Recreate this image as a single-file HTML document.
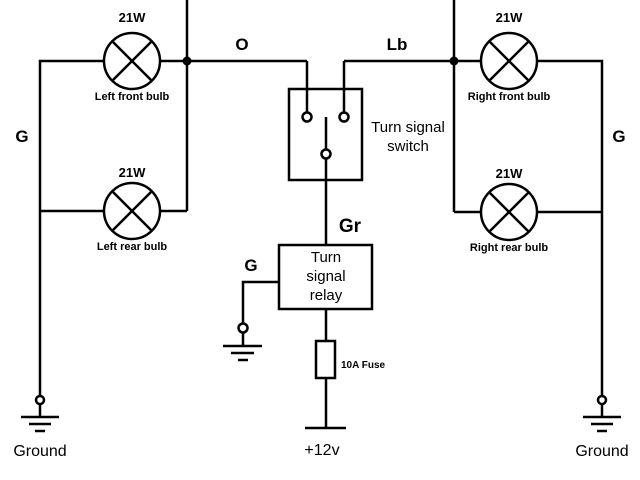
<!DOCTYPE html>
<html><head><meta charset="utf-8"><style>html,body{margin:0;padding:0;background:#fff}svg{display:block}</style></head>
<body>
<svg width="640" height="480" viewBox="0 0 640 480" xmlns="http://www.w3.org/2000/svg" font-family="Liberation Sans, sans-serif">
<g stroke="#000" stroke-width="2.5" fill="none">
<polyline points="104,61 40,61 40,396"/>
<line x1="40" y1="211" x2="104" y2="211"/>
<line x1="160" y1="61" x2="307" y2="61"/>
<line x1="187" y1="0" x2="187" y2="211"/>
<line x1="160" y1="211" x2="187" y2="211"/>
<line x1="307" y1="61" x2="307" y2="112"/>
<polyline points="537,61 602,61 602,396"/>
<line x1="537" y1="212" x2="602" y2="212"/>
<line x1="344" y1="61" x2="481" y2="61"/>
<line x1="454" y1="0" x2="454" y2="212"/>
<line x1="454" y1="212" x2="481" y2="212"/>
<line x1="344" y1="61" x2="344" y2="112"/>
<circle cx="132" cy="61" r="28"/><line x1="113" y1="42" x2="151" y2="80"/><line x1="151" y1="42" x2="113" y2="80"/>
<circle cx="132" cy="211" r="28"/><line x1="113" y1="192" x2="151" y2="230"/><line x1="151" y1="192" x2="113" y2="230"/>
<circle cx="509" cy="61" r="28"/><line x1="490" y1="42" x2="528" y2="80"/><line x1="528" y1="42" x2="490" y2="80"/>
<circle cx="509" cy="212" r="28"/><line x1="490" y1="193" x2="528" y2="231"/><line x1="528" y1="193" x2="490" y2="231"/>
<rect x="289" y="89" width="73" height="91"/>
<circle cx="307" cy="117" r="4.5"/><circle cx="344" cy="117" r="4.5"/><circle cx="326" cy="154" r="4.5"/>
<line x1="326" y1="117" x2="326" y2="149"/>
<line x1="326" y1="159" x2="326" y2="245"/>
<rect x="279" y="245" width="93" height="64"/>
<polyline points="279,282 243,282 243,323"/>
<circle cx="243" cy="328" r="4.5"/>
<line x1="243" y1="333" x2="243" y2="346"/>
<line x1="223" y1="346" x2="262" y2="346"/><line x1="231" y1="353" x2="254" y2="353"/><line x1="238" y1="360" x2="248" y2="360"/>
<line x1="326" y1="309" x2="326" y2="341"/>
<rect x="316" y="341" width="19" height="37"/>
<line x1="326" y1="378" x2="326" y2="428"/>
<line x1="305" y1="428" x2="346" y2="428"/>
<circle cx="40" cy="400" r="4"/><line x1="40" y1="404" x2="40" y2="417"/>
<line x1="21" y1="417" x2="59" y2="417"/><line x1="29" y1="424" x2="51" y2="424"/><line x1="35" y1="431" x2="45" y2="431"/>
<circle cx="602" cy="400" r="4"/><line x1="602" y1="404" x2="602" y2="417"/>
<line x1="583" y1="417" x2="621" y2="417"/><line x1="591" y1="424" x2="613" y2="424"/><line x1="597" y1="431" x2="607" y2="431"/>
</g>
<circle cx="187" cy="61" r="4.5" fill="#000"/>
<circle cx="454" cy="61" r="4.5" fill="#000"/>
<g fill="#000" font-weight="bold" text-anchor="middle">
<text x="132" y="22" font-size="13">21W</text>
<text x="132" y="100" font-size="11">Left front bulb</text>
<text x="132" y="177" font-size="13">21W</text>
<text x="132" y="250" font-size="11">Left rear bulb</text>
<text x="509" y="22" font-size="13">21W</text>
<text x="509" y="100" font-size="11">Right front bulb</text>
<text x="509" y="178" font-size="13">21W</text>
<text x="509" y="251" font-size="11">Right rear bulb</text>
<text x="22" y="142" font-size="17">G</text>
<text x="619" y="142" font-size="17">G</text>
<text x="242" y="50" font-size="17">O</text>
<text x="397" y="50" font-size="17">Lb</text>
<text x="350" y="232" font-size="19">Gr</text>
<text x="251" y="271" font-size="17">G</text>
</g>
<text x="341" y="368" font-size="10" font-weight="bold" fill="#000">10A Fuse</text>
<g fill="#000" font-size="15" text-anchor="middle">
<text x="408" y="132">Turn signal</text>
<text x="408" y="151">switch</text>
<text x="326" y="262">Turn</text>
<text x="326" y="281">signal</text>
<text x="326" y="300">relay</text>
<text x="40" y="456" font-size="16">Ground</text>
<text x="602" y="456" font-size="16">Ground</text>
<text x="322" y="455" font-size="16">+12v</text>
</g>
</svg>
</body></html>
